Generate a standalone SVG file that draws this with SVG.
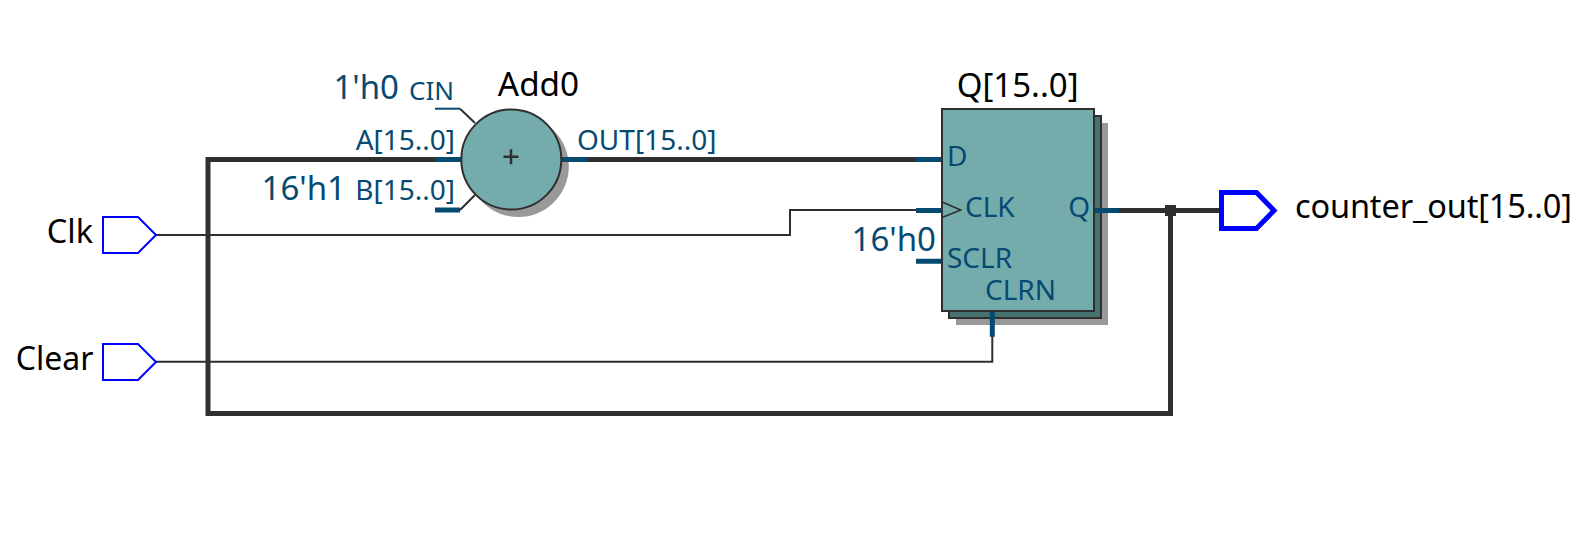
<svg xmlns="http://www.w3.org/2000/svg" width="1592" height="550" viewBox="0 0 1592 550">
<style>
text{font-family:"Noto Sans","Open Sans",sans-serif}
.name{font-size:32.5px;fill:#000}
.title{font-size:33.3px;fill:#000;text-anchor:middle}
.port{font-size:28px;fill:#064a72}
.const{font-size:33px;fill:#064a72}
.end{text-anchor:end}
.bus{fill:none;stroke:#2f2f2f;stroke-width:5}
.sig{fill:none;stroke:#2f2f2f;stroke-width:2}
.stub{fill:none;stroke:#064a72;stroke-width:5}
.stubthin{fill:none;stroke:#064a72;stroke-width:2}
.body{fill:#74acac;stroke:#2f2f2f;stroke-width:2}
.shadow{fill:#999}
.pin{fill:#fff;stroke:#0000ff;stroke-width:2}
.pinbus{fill:#fff;stroke:#0000ff;stroke-width:5}
</style>
<g id="connectors">
<path class="bus" d="M1170.5 210.500H1221M1170.500 210.500V413.500H208V159.500H461"/>
<path class="bus" d="M561 159.500H916"/>
<path class="bus" d="M1119 210.500H1170"/>
<path class="sig" d="M156 235H790V210H916"/>
<path class="sig" d="M156 361.700H992.300V336"/>
<rect x="1165" y="205" width="11" height="11" fill="#2f2f2f"/>
</g>
<g id="Add0">
<circle class="shadow" cx="518.300" cy="166.500" r="50.500"/>
<path class="sig" d="M460 108.700L475 123M460 210L475 195"/>
<path class="stubthin" d="M435 108.700H460"/>
<path class="stub" d="M435 159.500H462M435 210H460M561 159.500H587"/>
<circle class="body" cx="511.300" cy="159.500" r="50"/>
<path d="M503.500 156.700H518.500M511 149.200V164.200" fill="none" stroke="#2f2f2f" stroke-width="2.500"/>
<text class="title" x="538.500" y="96">Add0</text>
<text class="const end" x="399" y="98.500">1'h0</text>
<text class="port end" x="454" y="99.500" style="font-size:26px">CIN</text>
<text class="port end" x="455" y="150">A[15..0]</text>
<text class="const end" x="346" y="200">16'h1</text>
<text class="port end" x="455" y="200">B[15..0]</text>
<text class="port" x="577" y="150">OUT[15..0]</text>
</g>
<g id="Q">
<rect class="shadow" x="956" y="123" width="152" height="202"/>
<rect x="949" y="116" width="152" height="202" fill="#47726f" stroke="#2f2f2f" stroke-width="2"/>
<path class="stub" d="M916 159.500H942M916 210.500H942M916 261.300H942M1094 210.500H1119M992.300 311V336.700"/>
<rect class="body" x="942" y="109" width="152" height="202"/>
<path d="M942.700 202.300L960.700 210L942.700 217.300" fill="none" stroke="#2f2f2f" stroke-width="1.500"/>
<text class="title" x="1017.600" y="97" style="font-size:33px">Q[15..0]</text>
<text class="port" x="947" y="166">D</text>
<text class="port" x="965" y="217">CLK</text>
<text class="port end" x="1090" y="217">Q</text>
<text class="const end" x="936" y="251">16'h0</text>
<text class="port" x="947" y="267.500">SCLR</text>
<text class="port" x="985" y="300">CLRN</text>
</g>
<g id="Clk">
<path class="pin" d="M103 217H138L156 235L138 253H103Z"/>
<text class="name end" x="93" y="242.500">Clk</text>
</g>
<g id="Clear">
<path class="pin" d="M103 344H138L156 362L138 380H103Z"/>
<text class="name end" x="93.500" y="370" style="font-size:32px">Clear</text>
</g>
<g id="counter_out">
<path class="pinbus" d="M1221.500 192.500H1256.500L1274 210.500L1256.500 228.500H1221.500Z"/>
<text class="name" x="1295" y="217.500" textLength="277" lengthAdjust="spacing">counter_out[15..0]</text>
</g>
</svg>
